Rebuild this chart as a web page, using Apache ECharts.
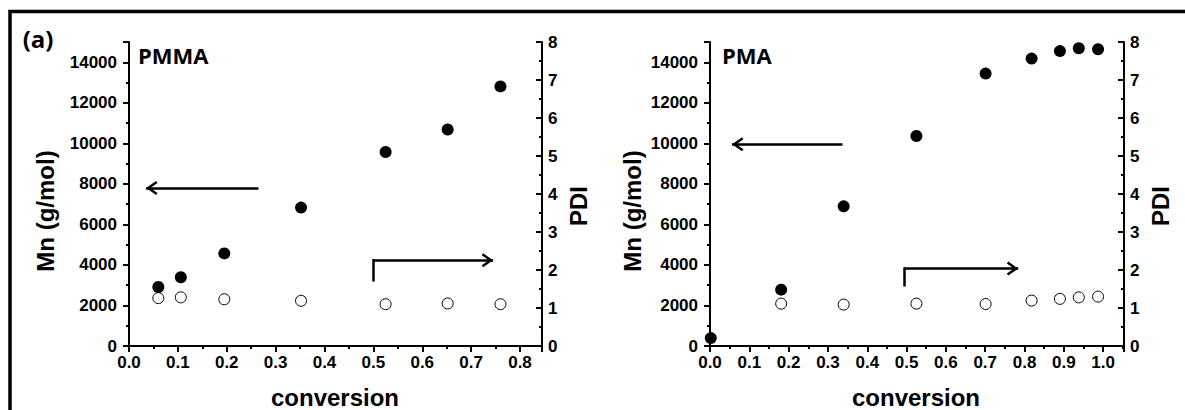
<!DOCTYPE html>
<html>
<head>
<meta charset="utf-8">
<script src="https://cdn.jsdelivr.net/npm/echarts@6/dist/echarts.min.js"></script>
<style>
  html, body { margin: 0; padding: 0; background: #fff; }
  #chart { width: 1185px; height: 410px; }
</style>
</head>
<body>
<div id="chart"></div>
<script>
// ---- data ----
const pmmaConv = [0.060, 0.106, 0.195, 0.352, 0.525, 0.652, 0.760];
const pmmaMn   = [2910, 3390, 4570, 6830, 9570, 10680, 12810];
const pmmaPDI  = [1.26, 1.28, 1.23, 1.19, 1.10, 1.12, 1.10];

const pmaConv = [0.002, 0.181, 0.340, 0.525, 0.701, 0.818, 0.890, 0.938, 0.987];
const pmaMn   = [390, 2780, 6890, 10360, 13440, 14180, 14550, 14690, 14640];
const pmaPDI  = [null, 1.115, 1.09, 1.115, 1.105, 1.195, 1.24, 1.28, 1.30];

const panelLabels = ['PMMA', 'PMA'];
const xName = 'conversion';
const yLeftName = 'Mn (g/mol)';
const yRightName = 'PDI';
const figLabel = '(a)';

// annotation arrows (data units: [conversion, Mn])
const pmmaArrowLeft  = [[0.265, 7800], [0.035, 7800]];
const pmmaArrowRight = [[0.5, 3240], [0.5, 4230], [0.745, 4230]];
const pmaArrowLeft   = [[0.337, 9950], [0.056, 9950]];
const pmaArrowRight  = [[0.495, 2995], [0.495, 3820], [0.784, 3820]];

// ---- helpers ----
const pairs = (xs, ys) => xs.map((x, i) => [x, ys[i]]).filter(p => p[1] !== null);
const AX = '#000';
const tickFont = { color: AX, fontWeight: 'bold', fontSize: 17, fontFamily: 'Liberation Sans, Arial, sans-serif' };
const chevron = 'path://M7,0 L14,10 L12,11.4 L7,4.3 L2,11.4 L0,10 Z M7,-11.4 L7.01,-11.4 L7,-11.39 Z';

function xAx(gi, max) {
  return {
    type: 'value', gridIndex: gi, min: 0, max: max, interval: 0.1,
    axisLine: { onZero: false, lineStyle: { color: AX, width: 2 } },
    axisTick: { inside: false, length: 6, lineStyle: { color: AX, width: 2 } },
    minorTick: { show: true, splitNumber: 2, length: 3, lineStyle: { color: AX, width: 2 } },
    axisLabel: Object.assign({ margin: 8, showMaxLabel: false,
      formatter: v => (Math.abs(v * 10 - Math.round(v * 10)) < 1e-6 ? v.toFixed(1) : '') }, tickFont),
    splitLine: { show: false }
  };
}
function yLeft(gi) {
  return {
    type: 'value', gridIndex: gi, position: 'left', min: 0, max: 15000, interval: 2000,
    axisLine: { show: true, onZero: false, lineStyle: { color: AX, width: 2 } },
    axisTick: { show: true, inside: false, length: 6, lineStyle: { color: AX, width: 2 } },
    minorTick: { show: true, splitNumber: 2, length: 3, lineStyle: { color: AX, width: 2 } },
    axisLabel: Object.assign({ margin: 12, showMaxLabel: false,
      formatter: v => (v % 2000 === 0 ? String(v) : '') }, tickFont),
    splitLine: { show: false }
  };
}
function yRight(gi) {
  return {
    type: 'value', gridIndex: gi, position: 'right', min: 0, max: 8, interval: 1,
    axisLine: { show: true, onZero: false, lineStyle: { color: AX, width: 2 } },
    axisTick: { show: true, inside: true, length: 6, lineStyle: { color: AX, width: 2 } },
    minorTick: { show: true, splitNumber: 2, length: 3, lineStyle: { color: AX, width: 2 } },
    axisLabel: Object.assign({ margin: 6 }, tickFont),
    splitLine: { show: false }
  };
}
function arrowLines(left, right) {
  const solid = { color: AX, width: 2.5, type: 'solid', opacity: 1 };
  return {
    silent: true, animation: false,
    symbol: ['none', chevron], symbolSize: [14, 22.8],
    label: { show: false },
    lineStyle: solid,
    itemStyle: { color: AX, opacity: 1 },
    emphasis: { disabled: true },
    data: [
      [{ coord: left[0] }, { coord: left[1] }],
      [{ coord: right[0], lineStyle: { color: AX, width: 2.5, type: 'solid', cap: 'square', opacity: 1 } },
       { coord: right[1], symbol: 'none' }],
      [{ coord: right[1] }, { coord: right[2] }]
    ]
  };
}
function filled(xi, yi, data, ml) {
  return { type: 'scatter', xAxisIndex: xi, yAxisIndex: yi, data: data, symbolSize: 12,
    itemStyle: { color: '#000', opacity: 1 }, emphasis: { disabled: true },
    z: 3, clip: true, markLine: ml };
}
function open(xi, yi, data) {
  return { type: 'scatter', xAxisIndex: xi, yAxisIndex: yi, data: data, symbolSize: 11,
    itemStyle: { color: '#fff', borderColor: '#000', borderWidth: 1, opacity: 1 },
    emphasis: { disabled: true }, z: 2, clip: true };
}
const nameFont = 'bold 24px "Liberation Sans", Arial, sans-serif';
const labelFont = 'bold 22px "Open Sans", sans-serif';
function txt(text, x, y, font, rot, align) {
  return { type: 'text', x: x, y: y, rotation: rot || 0, silent: true,
    style: { text: text, font: font, fill: '#000', textAlign: align || 'center', textVerticalAlign: 'middle' } };
}

const chart = echarts.init(document.getElementById('chart'), null, { renderer: 'svg' });
chart.setOption({
  animation: false,
  backgroundColor: '#fff',
  tooltip: { show: false },
  grid: [
    { left: 129, top: 42, width: 413, height: 304 },
    { left: 710, top: 42, width: 414, height: 304 }
  ],
  xAxis: [xAx(0, 0.845), xAx(1, 1.053)],
  yAxis: [yLeft(0), yRight(0), yLeft(1), yRight(1)],
  series: [
    open(0, 1, pairs(pmmaConv, pmmaPDI)),
    filled(0, 0, pairs(pmmaConv, pmmaMn), arrowLines(pmmaArrowLeft, pmmaArrowRight)),
    open(1, 3, pairs(pmaConv, pmaPDI)),
    filled(1, 2, pairs(pmaConv, pmaMn), arrowLines(pmaArrowLeft, pmaArrowRight))
  ],
  graphic: [
    { type: 'rect', silent: true, shape: { x: 10, y: 11.5, width: 1200, height: 420 },
      style: { fill: 'none', stroke: '#000', lineWidth: 3.5 } },
    txt(figLabel, 38, 38, 'bold 24px "Open Sans", sans-serif'),
    txt(panelLabels[0], 138, 55, labelFont, 0, 'left'),
    txt(panelLabels[1], 722, 55, labelFont, 0, 'left'),
    txt(yLeftName, 45, 211, nameFont, Math.PI / 2),
    txt(yLeftName, 632, 211, nameFont, Math.PI / 2),
    txt(yRightName, 578, 206, nameFont, Math.PI / 2),
    txt(yRightName, 1160, 206, nameFont, Math.PI / 2),
    txt(xName, 335, 397, nameFont),
    txt(xName, 916, 397, nameFont)
  ]
});
</script>
</body>
</html>
